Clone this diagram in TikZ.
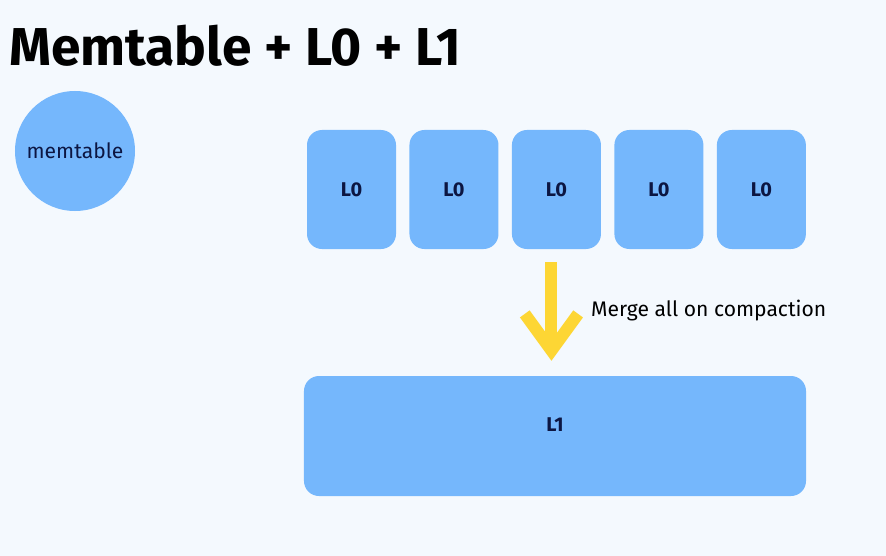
\documentclass[tikz,border=0pt]{standalone}
\usepackage{fontspec}
\setmainfont{Fira Sans}
\usepackage{tikz}
\usetikzlibrary{positioning,arrows.meta}

\definecolor{bgblue}{RGB}{244,249,254}
\definecolor{boxblue}{RGB}{117,183,252}
\definecolor{navytext}{RGB}{12,22,66}
\definecolor{mergeyellow}{RGB}{253,214,52}

\begin{document}
\begin{tikzpicture}[
  x=0.03cm, y=-0.03cm,
  node distance=0.39cm,
  blk/.style={fill=boxblue, rounded corners=4.5mm, text=navytext,
              font=\fontsize{17}{20}\selectfont\bfseries, inner sep=0pt},
  lzero/.style={blk, minimum width=2.67cm, minimum height=3.57cm},
  mergearr/.style={-{Straight Barb[length=11mm,width=16mm]}, line width=3.6mm,
                   draw=mergeyellow, shorten <=3.9mm, shorten >=4.5mm}
]
\fill[bgblue] (0,0) rectangle (886,556);
\useasboundingbox (0,0) rectangle (886,556);

\node[anchor=base west, inner sep=0pt, font=\fontsize{45.5}{50}\selectfont\bfseries]
  (title) at (9,65) {Memtable + L0 + L1};

\node[circle, fill=boxblue, minimum size=3.6cm, inner sep=0pt, text=navytext,
      font=\fontsize{18}{21}\selectfont] (memtable) at (75,151) {memtable};

\node[lzero] (l0a) at (351.5,189.5) {L0};
\node[lzero, right=of l0a] (l0b) {L0};
\node[lzero, right=of l0b] (l0c) {L0};
\node[lzero, right=of l0c] (l0d) {L0};
\node[lzero, right=of l0d] (l0e) {L0};

\node[blk, minimum width=15.06cm, minimum height=3.6cm,
      label={[text=navytext, font=\fontsize{17}{20}\selectfont\bfseries, yshift=3.3mm]center:L1}]
  (l1) at (555,436) {};

\draw[mergearr] ([xshift=-1.5mm]l0c.south) -- ([xshift=-1.5mm]l0c.south |- l1.north);
\node[anchor=west, inner sep=0pt, font=\fontsize{18}{21}\selectfont] (mergelabel)
  at (591,311) {Merge all on compaction};
\end{tikzpicture}
\end{document}
